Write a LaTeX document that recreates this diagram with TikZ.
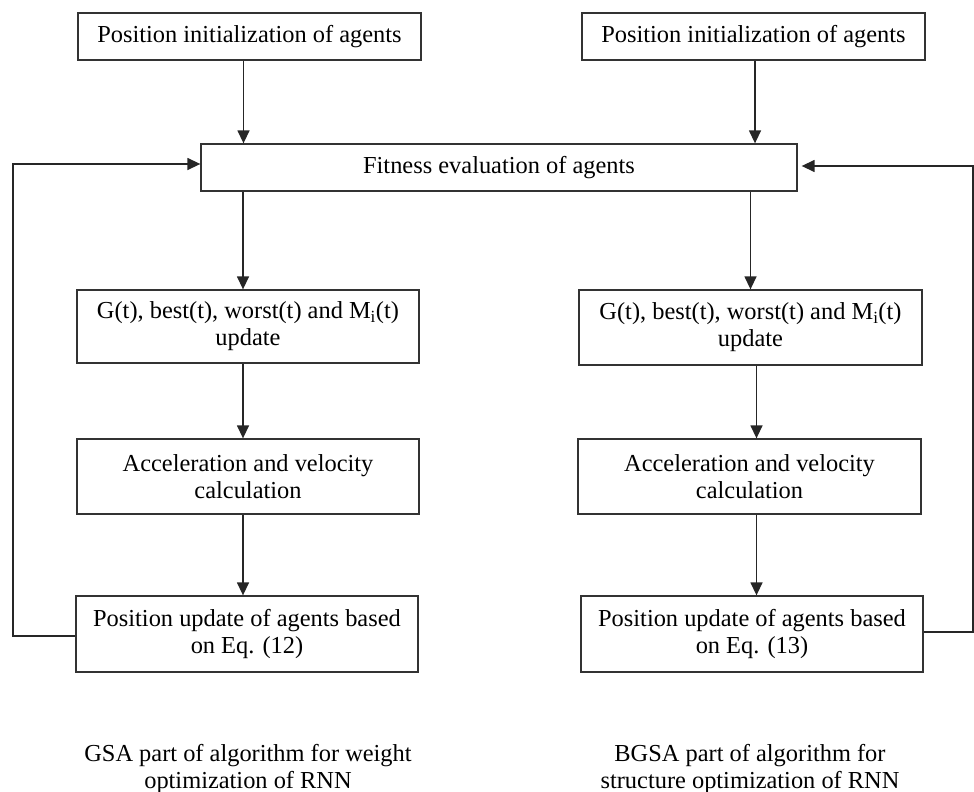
\documentclass[tikz,border=0pt]{standalone}
\usepackage{fontspec}
\setmainfont{Liberation Serif}
\usetikzlibrary{arrows.meta,calc}
\begin{document}
\begin{tikzpicture}[x=1pt,y=-1pt,
  box/.style={draw=black!80,line width=1.3pt,rectangle,align=center,inner sep=0pt,
    font=\fontsize{24.4}{27}\selectfont,text=black},
  arr/.style={draw=black!85,line width=1.4pt,-{Triangle[length=13pt,width=12pt]}},
  captxt/.style={align=center,font=\fontsize{24.4}{27}\selectfont}]
\useasboundingbox (0,0) rectangle (974,792);
% boxes
\node[box,minimum width=343pt,minimum height=47pt] (tl) at (249.5,36.5) {Position initialization of agents};
\node[box,minimum width=343pt,minimum height=47pt] (tr) at (753.5,36.5) {Position initialization of agents};
\node[box,minimum width=596pt,minimum height=47pt] (fit) at (499,167.5) {Fitness evaluation of agents};
\node[box,minimum width=342pt,minimum height=73pt] (gl) at (248,326.5) {G(t), best(t), worst(t) and M\textsubscript{i}(t)\\update};
\node[box,minimum width=343pt,minimum height=75pt] (gr) at (750.5,327.5) {G(t), best(t), worst(t) and M\textsubscript{i}(t)\\update};
\node[box,minimum width=342pt,minimum height=75pt] (al) at (248,476.5) {Acceleration and velocity\\calculation};
\node[box,minimum width=343pt,minimum height=75pt] (ar) at (749.5,476.5) {Acceleration and velocity\\calculation};
\node[box,minimum width=342pt,minimum height=76pt] (pl) at (247,634) {Position update of agents based\\on Eq. (12)};
\node[box,minimum width=342pt,minimum height=76pt] (pr) at (752,634) {Position update of agents based\\on Eq. (13)};
% captions
\node[captxt] (cl) at (248,768.5) {GSA part of algorithm for weight\\optimization of RNN};
\node[captxt] (cr) at (750,768.5) {BGSA part of algorithm for\\structure optimization of RNN};
% coordinates for feedback loops
\coordinate (lx) at (13,0);
\coordinate (rx) at (973,0);
% vertical arrows
\draw[arr] ([xshift=-6pt]tl.south) -- ([xshift=-6pt]tl.south |- fit.north);
\draw[arr] ([xshift=1.5pt]tr.south) -- ([xshift=1.5pt]tr.south |- fit.north);
\draw[arr] ([xshift=-5pt]gl.north |- fit.south) -- ([xshift=-5pt]gl.north);
\draw[arr] (gr.north |- fit.south) -- (gr.north);
\draw[arr] ([xshift=-5pt]gl.south) -- ([xshift=-5pt]al.north);
\draw[arr] ([xshift=6pt]gr.south) -- ([xshift=6pt]gr.south |- ar.north);
\draw[arr] ([xshift=-5pt]al.south) -- ([xshift=-4pt]pl.north);
\draw[arr] ([xshift=7pt]ar.south) -- ([xshift=7pt]ar.south |- pr.north);
% feedback loops
\draw[arr] ([yshift=-2pt]pl.west) -- ([yshift=-2pt]pl.west -| lx) -- ([yshift=3.5pt]fit.west -| lx) -- ([yshift=3.5pt]fit.west);
\draw[arr] ([yshift=2pt]pr.east) -- ([yshift=2pt]pr.east -| rx) -- ([yshift=1.5pt]fit.east -| rx) -- ([yshift=1.5pt,xshift=4pt]fit.east);
\end{tikzpicture}
\end{document}
